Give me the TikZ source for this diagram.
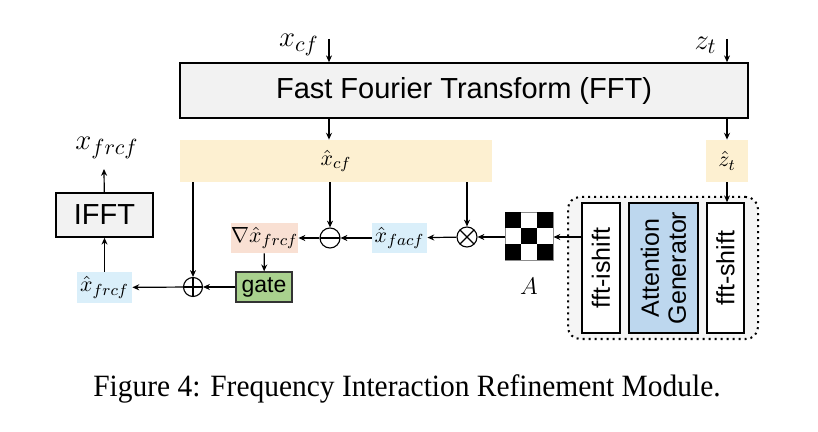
\documentclass[tikz,border=0pt]{standalone}
\usepackage{fontspec}
\usepackage{amsmath, amssymb}
\usepackage{tikz}
\usetikzlibrary{shapes, arrows.meta, positioning, calc}
\newfontfamily\arialfont{Liberation Sans}
\newfontfamily\timesfont{Liberation Serif}
\definecolor{fftgray}{RGB}{242, 242, 242}
\definecolor{specyellow}{RGB}{253, 240, 209}
\definecolor{featblue}{RGB}{218, 239, 250}
\definecolor{gradred}{RGB}{249, 224, 211}
\definecolor{gategreen}{RGB}{169, 209, 142}
\definecolor{gengblue}{RGB}{189, 215, 238}
\definecolor{framegray}{RGB}{245, 245, 245}

\begin{document}
\begin{tikzpicture}[x=0.5pt, y=-0.5pt, >={Stealth[length=3.4pt, width=3pt]},
  block/.style={draw, line width=0.8pt, inner sep=0pt, font=\arialfont},
  feat/.style={inner sep=0pt, font=\fontsize{11}{13}\selectfont},
  opnode/.style={circle, draw, line width=0.55pt, minimum size=9.5pt, inner sep=0pt},
  flow/.style={->, line width=0.6pt}]
  \useasboundingbox (0,0) rectangle (818,432);

  \node[block, fill=fftgray, minimum width=284pt, minimum height=27.5pt,
        font=\arialfont\fontsize{14.5}{17}\selectfont] (fft) at (464,90.5) {Fast Fourier Transform (FFT)};
  \coordinate (xin) at (329,39);
  \coordinate (zin) at (727,39);
  \node[anchor=east, inner sep=1pt, font=\fontsize{15}{18}\selectfont] (xcf) at (321,45) {$x_{cf}$};
  \node[anchor=east, inner sep=1pt, font=\fontsize{15}{18}\selectfont] (zt) at (719,45) {$z_{t}$};

  \node[feat, fill=specyellow, minimum width=156pt, minimum height=21pt] (xhcf) at (336,161) {$\hat{x}_{cf}$};
  \node[feat, fill=specyellow, minimum width=21pt, minimum height=21pt] (zht) at (727,161) {$\hat{z}_{t}$};

  \node[block, fill=fftgray, minimum width=48.5pt, minimum height=22pt,
        font=\arialfont\fontsize{14.5}{17}\selectfont] (ifft) at (104.5,215) {IFFT};
  \node[inner sep=1pt, font=\fontsize{15}{18}\selectfont] (xout) at (107,148) {$x_{frcf}$};
  \coordinate (xouttip) at (104,169);
  \node[feat, fill=featblue, minimum width=27.5pt, minimum height=15.5pt] (xfrcf) at (104.5,287.5) {$\hat{x}_{frcf}$};

  \node[opnode, path picture={\draw (path picture bounding box.north) -- (path picture bounding box.south)
        (path picture bounding box.west) -- (path picture bounding box.east);}] (oplus) at (193,287) {};
  \node[opnode, minimum size=10pt, path picture={\draw (path picture bounding box.west) -- (path picture bounding box.east);}] (ominus) at (330,238) {};
  \node[opnode, minimum size=10pt, path picture={\draw (path picture bounding box.north west) -- (path picture bounding box.south east)
        (path picture bounding box.north east) -- (path picture bounding box.south west);}] (otimes) at (467,237) {};

  \node[block, line width=0.7pt, draw=black!80, fill=gategreen, minimum width=28pt, minimum height=15pt,
        font=\arialfont\fontsize{11.5}{13}\selectfont] (gate) at (264,287) {gate};
  \node[feat, fill=gradred, minimum width=27.5pt, minimum height=15pt] (grad) at (264.5,238) {$\nabla\hat{x}_{frcf}$};
  \node[feat, fill=featblue, minimum width=27.5pt, minimum height=15pt] (xfacf) at (399.5,238) {$\hat{x}_{facf}$};

  \node[draw=black!45, line width=0.5pt, minimum size=24pt, inner sep=0pt] (board) at (529,237) {};
  \foreach \i/\j in {0/0, 2/0, 1/1, 0/2, 2/2}
    \fill ($(board.north west)+(\i*16,\j*16)$) rectangle ++(16,16);
  \node[font=\fontsize{12}{14}\selectfont] (alabel) at (529,286) {$A$};

  \node[draw, dotted, line width=1pt, rounded corners=6pt, fill=framegray,
        minimum width=95pt, minimum height=71pt] (frame) at (663,268) {};
  \node[block, fill=white, rotate=90, minimum width=65pt, minimum height=19pt,
        font=\arialfont\fontsize{12.5}{14}\selectfont] (ishift) at (601,268) {fft-ishift};
  \node[block, fill=gengblue, rotate=90, minimum width=65pt, minimum height=34.5pt, align=center,
        font=\arialfont\fontsize{12.5}{13.5}\selectfont] (attgen) at (663.5,268) {Attention\\Generator};
  \node[block, fill=white, rotate=90, minimum width=65pt, minimum height=18.5pt,
        font=\arialfont\fontsize{12.5}{14}\selectfont] (fshift) at (725.5,268) {fft-shift};

  \draw[flow] (xin) -- (xin |- fft.north);
  \draw[flow] (zin) -- (zin |- fft.north);
  \draw[flow] (xin |- fft.south) -- (xin |- xhcf.north);
  \draw[flow] (zin |- fft.south) -- (zht.north);
  \draw[flow] (zht.south) -- (zht.south |- fshift.east);
  \draw[flow] (board.east -| ishift.north) -- (board.east);
  \draw[flow] (board) -- (otimes);
  \draw[flow] (otimes.north |- xhcf.south) -- (otimes.north);
  \draw[flow] (otimes) -- (xfacf);
  \draw[flow] (xfacf) -- (ominus);
  \draw[flow] (ominus.north |- xhcf.south) -- (ominus.north);
  \draw[flow] (ominus) -- (grad);
  \draw[flow] (grad) -- (gate);
  \draw[flow] (gate) -- (oplus);
  \draw[flow] (oplus.north |- xhcf.south) -- (oplus.north);
  \draw[flow] (oplus) -- (xfrcf);
  \draw[flow] (xfrcf) -- (ifft);
  \draw[flow] (ifft) -- (xouttip);

  \node[anchor=base, xscale=0.95, font=\timesfont\fontsize{15.5}{18}\selectfont] (caption) at (407,396) {Figure 4: Frequency Interaction Refinement Module.};
\end{tikzpicture}
\end{document}
